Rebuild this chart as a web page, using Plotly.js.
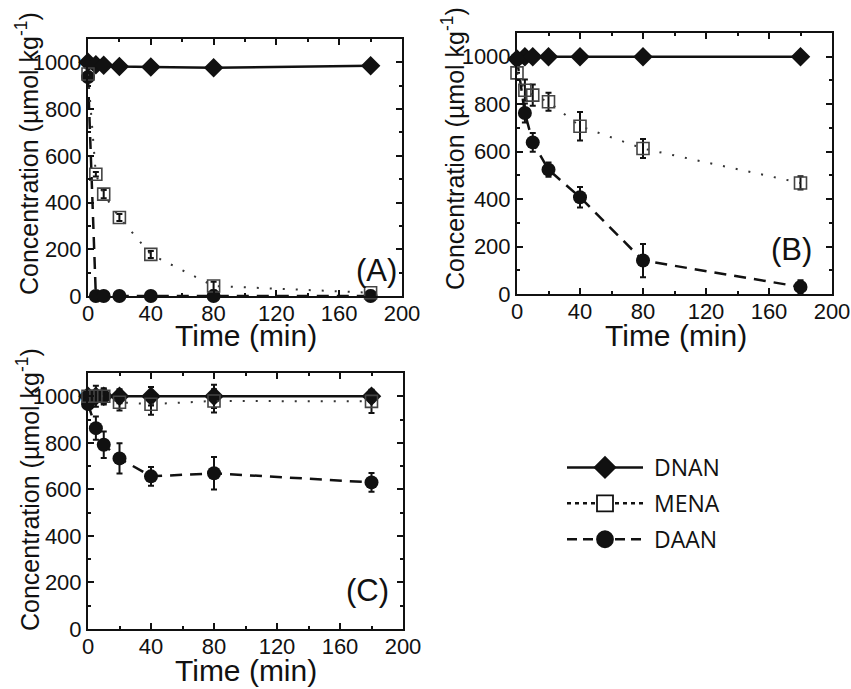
<!DOCTYPE html>
<html>
<head>
<meta charset="utf-8">
<script src="https://cdn.plot.ly/plotly-3.0.1.min.js"></script>
<style>html,body{margin:0;padding:0;background:#fff;}#chart{width:851px;height:689px;}</style>
</head>
<body>
<div id="chart"></div>
<script>
// ---- data ----
var time = [0, 5, 10, 20, 40, 80, 180];
var seriesNames = ['DNAN', 'MENA', 'DAAN'];
var panelLabels = ['(A)', '(B)', '(C)'];
var xTitle = 'Time (min)';
var yTitle = 'Concentration (µmol kg<sup>-1</sup>)';

// Panel A
var dnanA = [1000, 990, 988, 982, 980, 977, 985];
var dnanAErr = [8, 8, 8, 8, 8, 14, 8];
var menaA = [950, 521, 436, 336, 178, 43, 14];
var menaAErr = [8, 10, 18, 15, 15, 18, 8];
var daanA = [937, 0, 0, 0, 0, 0, 0];
var daanAErr = [8, 0, 0, 0, 0, 6, 0];

// Panel B
var dnanB = [990, 1000, 1000, 1000, 1000, 1000, 1000];
var dnanBErr = [0, 0, 0, 0, 0, 0, 0];
var menaB = [932, 859, 838, 810, 707, 613, 468];
var menaBErr = [0, 45, 45, 38, 60, 40, 28];
var daanB = [990, 763, 639, 524, 408, 141, 30];
var daanBErr = [0, 40, 40, 30, 43, 70, 28];

// Panel C
var dnanC = [1000, 1000, 1000, 1000, 1000, 1000, 1000];
var dnanCErr = [0, 0, 30, 30, 40, 50, 25];
var menaC = [1000, 1000, 1000, 974, 966, 980, 978];
var menaCErr = [0, 45, 35, 35, 45, 50, 50];
var daanC = [967, 863, 792, 733, 656, 669, 630];
var daanCErr = [0, 50, 57, 65, 40, 70, 40];

// ---- styles ----
var styles = {
  DNAN: {line: {color: '#111', width: 2.5, dash: 'solid'}, marker: {symbol: 'diamond', size: 15, color: '#111'}},
  MENA: {line: {color: '#333', width: 2, dash: '2px,11px'}, marker: {symbol: 'square-open', size: 12, color: '#444', line: {width: 1.6, color: '#444'}}},
  DAAN: {line: {color: '#111', width: 2.5, dash: '12px,8px'}, marker: {symbol: 'circle', size: 14, color: '#111'}}
};

function tr(name, y, err, xa, ya) {
  var s = styles[name];
  return {
    type: 'scatter', mode: 'lines+markers', x: time, y: y, name: name,
    xaxis: xa, yaxis: ya, showlegend: false, cliponaxis: false,
    line: s.line, marker: s.marker,
    error_y: {type: 'data', array: err, visible: true, color: '#111', thickness: 2, width: 3}
  };
}

var data = [
  tr('DNAN', dnanA, dnanAErr, 'x', 'y'),
  tr('DAAN', daanA, daanAErr, 'x', 'y'),
  tr('MENA', menaA, menaAErr, 'x', 'y'),
  tr('DNAN', dnanB, dnanBErr, 'x2', 'y2'),
  tr('DAAN', daanB, daanBErr, 'x2', 'y2'),
  tr('MENA', menaB, menaBErr, 'x2', 'y2'),
  tr('DNAN', dnanC, dnanCErr, 'x3', 'y3'),
  tr('DAAN', daanC, daanCErr, 'x3', 'y3'),
  tr('MENA', menaC, menaCErr, 'x3', 'y3')
];

// legend proxies
var legendDash = {DNAN: 'solid', MENA: '4px,4px', DAAN: '10px,6px'};
seriesNames.forEach(function (n, i) {
  var s = styles[n];
  data.push({
    type: 'scatter', mode: 'lines+markers', x: [null], y: [null], name: '&nbsp;' + n,
    xaxis: 'x3', yaxis: 'y3', showlegend: true, legendgroup: 'g' + i,
    line: {color: '#111', width: 2.5, dash: legendDash[n]},
    marker: {symbol: n === 'MENA' ? 'square' : s.marker.symbol, size: 16, color: n === 'MENA' ? '#fff' : '#111', line: {width: 1.8, color: '#111'}}
  });
});

var tickFont = {family: 'Liberation Sans, Arial, sans-serif', size: 22, color: '#111'};

function xax(domain, anchor) {
  return {
    domain: domain, anchor: anchor, range: [0, 200], dtick: 40, tick0: 0,
    showline: true, linewidth: 2, linecolor: '#111', mirror: 'allticks',
    ticks: 'inside', ticklen: 6, tickwidth: 2, tickcolor: '#111', ticklabelstandoff: -3,
    minor: {ticks: 'inside', ticklen: 3, tickwidth: 2, dtick: 20, tickcolor: '#111'},
    showgrid: false, zeroline: false, tickfont: tickFont, fixedrange: true
  };
}
function yax(domain, anchor) {
  return {
    domain: domain, anchor: anchor, range: [0, 1100], dtick: 200, tick0: 0,
    showline: true, linewidth: 2, linecolor: '#111', mirror: 'allticks',
    ticks: 'inside', ticklen: 6, tickwidth: 2, tickcolor: '#111',
    minor: {ticks: 'inside', ticklen: 3, tickwidth: 2, dtick: 100, tickcolor: '#111'},
    showgrid: false, zeroline: false, tickfont: tickFont, fixedrange: true
  };
}

var W = 851, H = 689;
function px(v) { return v / W; }
function py(v) { return 1 - v / H; }

var annFont = {family: 'Liberation Sans, Arial, sans-serif', size: 25, color: '#111'};
var xtFont = {family: 'Liberation Sans, Arial, sans-serif', size: 30, color: '#111'};
var labFont = {family: 'Liberation Sans, Arial, sans-serif', size: 31, color: '#111'};

var annotations = [
  // y titles
  {xref: 'paper', yref: 'paper', x: px(27), y: py(154), text: yTitle, textangle: -90, showarrow: false, xanchor: 'center', yanchor: 'middle', font: annFont},
  {xref: 'paper', yref: 'paper', x: px(453), y: py(149), text: yTitle, textangle: -90, showarrow: false, xanchor: 'center', yanchor: 'middle', font: annFont},
  {xref: 'paper', yref: 'paper', x: px(28), y: py(490), text: yTitle, textangle: -90, showarrow: false, xanchor: 'center', yanchor: 'middle', font: annFont},
  // x titles
  {xref: 'paper', yref: 'paper', x: px(246), y: py(335), text: xTitle, showarrow: false, xanchor: 'center', yanchor: 'middle', font: xtFont},
  {xref: 'paper', yref: 'paper', x: px(676), y: py(335), text: xTitle, showarrow: false, xanchor: 'center', yanchor: 'middle', font: xtFont},
  {xref: 'paper', yref: 'paper', x: px(246), y: 0, text: xTitle, showarrow: false, xanchor: 'center', yanchor: 'bottom', font: xtFont},
  // panel labels
  {xref: 'paper', yref: 'paper', x: px(376), y: py(270), text: panelLabels[0], showarrow: false, xanchor: 'center', yanchor: 'middle', font: labFont},
  {xref: 'paper', yref: 'paper', x: px(791), y: py(249), text: panelLabels[1], showarrow: false, xanchor: 'center', yanchor: 'middle', font: labFont},
  {xref: 'paper', yref: 'paper', x: px(367), y: py(590), text: panelLabels[2], showarrow: false, xanchor: 'center', yanchor: 'middle', font: labFont}
];

var layout = {
  width: W, height: H,
  margin: {l: 0, r: 0, t: 0, b: 0},
  paper_bgcolor: '#fff', plot_bgcolor: '#fff',
  xaxis: xax([px(88), px(402)], 'y'),
  yaxis: yax([py(296), py(39)], 'x'),
  xaxis2: xax([px(517), px(832)], 'y2'),
  yaxis2: yax([py(294), py(33)], 'x2'),
  xaxis3: xax([px(88), px(403)], 'y3'),
  yaxis3: yax([py(629), py(373)], 'x3'),
  showlegend: true,
  legend: {
    x: px(562), y: py(446), xanchor: 'left', yanchor: 'top',
    font: {family: 'Open Sans, sans-serif', size: 23, color: '#111'},
    itemwidth: 76, tracegroupgap: 3, traceorder: 'grouped',
    bgcolor: 'rgba(0,0,0,0)', borderwidth: 0
  },
  annotations: annotations
};

Plotly.newPlot('chart', data, layout, {staticPlot: true, displayModeBar: false});
</script>
</body>
</html>
